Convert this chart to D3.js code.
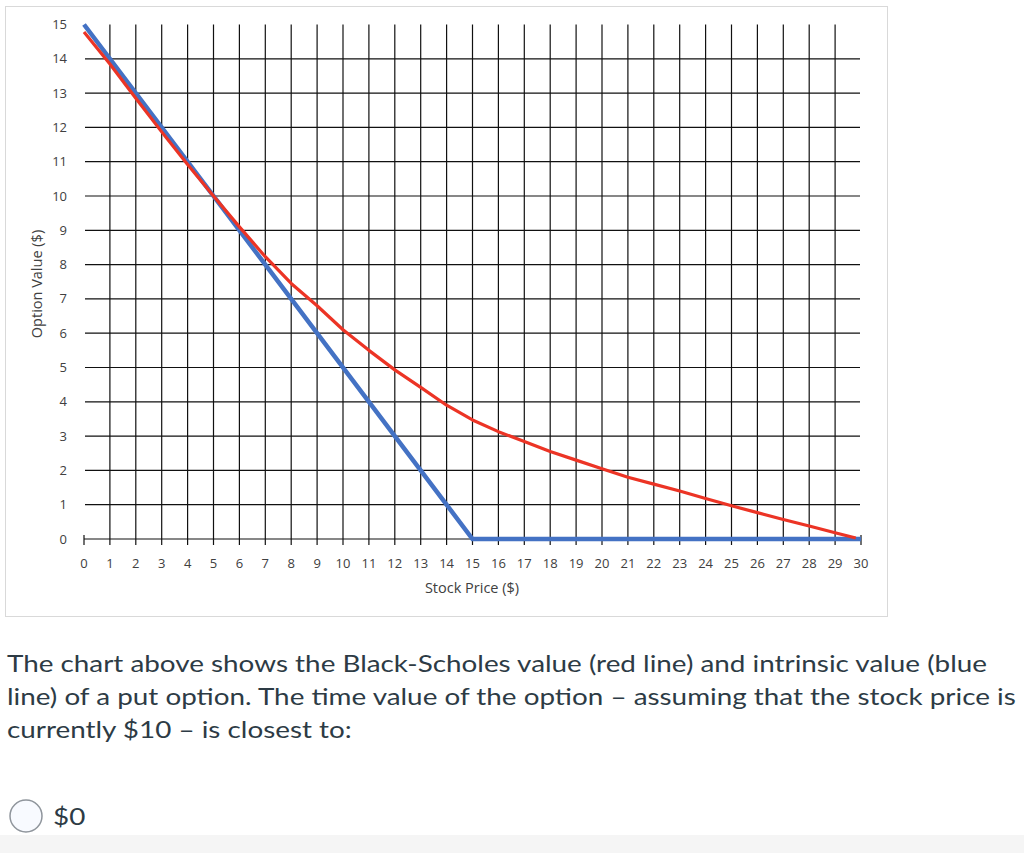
<!DOCTYPE html>
<html>
<head>
<meta charset="utf-8">
<script src="https://cdn.jsdelivr.net/npm/d3@7"></script>
<style>
  html, body { margin: 0; padding: 0; background: #fff; }
  svg { display: block; }
</style>
</head>
<body>
<svg id="chart" width="1024" height="853"></svg>
<script>
const svg = d3.select("#chart");

// data
const stockPrices = d3.range(0, 31);
const intrinsicPrices = [0, 15, 30];
const intrinsicValues = [15, 0, 0];
const bsPrices = [0, 1, 2, 3, 4, 5, 6, 7, 8, 9, 10, 11, 12, 13, 14, 15, 16, 17, 18, 19, 20, 21, 22, 23, 24, 25, 26, 27, 28, 29, 29.8];
const bsValues = [14.78, 13.85, 12.85, 11.87, 10.92, 10.0, 9.1, 8.23, 7.45, 6.8, 6.1, 5.5, 4.93, 4.42, 3.9, 3.47, 3.13, 2.84, 2.55, 2.3, 2.05, 1.8, 1.6, 1.4, 1.18, 0.97, 0.77, 0.57, 0.38, 0.18, 0.03];
const yTicks = d3.range(0, 16);
const xLabel = "Stock Price ($)";
const yLabel = "Option Value ($)";
const question = [
  "The chart above shows the Black-Scholes value (red line) and intrinsic value (blue",
  "line) of a put option. The time value of the option \u2013 assuming that the stock price is",
  "currently $10 \u2013 is closest to:"
];
const answer = "$0";

const x = d3.scaleLinear().domain([0, 30]).range([84, 861]);
const y = d3.scaleLinear().domain([0, 15]).range([539, 24.5]);

const tickFont = "Open Sans, sans-serif";
const textColor = "#404040";

// chart frame
svg.append("rect")
  .attr("x", 5.5).attr("y", 6.5)
  .attr("width", 882).attr("height", 610)
  .attr("fill", "#fff")
  .attr("stroke", "#d9d9d9");

// vertical grid
svg.append("g")
  .selectAll("line")
  .data(stockPrices.filter(d => d > 0 && d < 30))
  .enter()
  .append("line")
  .attr("x1", d => x(d)).attr("x2", d => x(d))
  .attr("y1", y(15)).attr("y2", y(0) + 6)
  .attr("stroke", "#111").attr("stroke-width", 1.2);

// end ticks on the x axis
svg.append("g")
  .selectAll("line")
  .data([0, 30])
  .enter()
  .append("line")
  .attr("x1", d => x(d)).attr("x2", d => x(d))
  .attr("y1", y(0) - 4).attr("y2", y(0) + 6)
  .attr("stroke", "#111").attr("stroke-width", 1.2);

// horizontal grid (0 is the axis)
svg.append("g")
  .selectAll("line")
  .data(yTicks.filter(d => d < 15))
  .enter()
  .append("line")
  .attr("x1", d => d === 0 ? x(0) : x(0) + 1).attr("x2", x(30) - 1)
  .attr("y1", d => y(d)).attr("y2", d => y(d))
  .attr("stroke", "#111").attr("stroke-width", 1.2);

// tick labels
svg.append("g")
  .selectAll("text")
  .data(yTicks)
  .enter()
  .append("text")
  .attr("x", 67)
  .attr("y", d => y(d) + 4.5)
  .attr("text-anchor", "end")
  .attr("font-family", tickFont)
  .attr("font-size", 13)
  .attr("fill", textColor)
  .text(d => d);

svg.append("g")
  .selectAll("text")
  .data(stockPrices)
  .enter()
  .append("text")
  .attr("x", d => x(d))
  .attr("y", y(0) + 29)
  .attr("text-anchor", "middle")
  .attr("font-family", tickFont)
  .attr("font-size", 13)
  .attr("fill", textColor)
  .text(d => d);

// axis titles
svg.append("text")
  .attr("x", 472).attr("y", 593)
  .attr("text-anchor", "middle")
  .attr("font-family", tickFont)
  .attr("font-size", 14.5)
  .attr("fill", textColor)
  .text(xLabel);

svg.append("text")
  .attr("transform", "translate(42,284) rotate(-90)")
  .attr("text-anchor", "middle")
  .attr("font-family", tickFont)
  .attr("font-size", 14.5)
  .attr("fill", textColor)
  .text(yLabel);

// series
const line = d3.line().x(d => x(d[0])).y(d => y(d[1]));

svg.append("path")
  .datum(d3.zip(intrinsicPrices, intrinsicValues))
  .attr("d", line)
  .attr("fill", "none")
  .attr("stroke", "#4472c4")
  .attr("stroke-width", 4.5);

svg.append("path")
  .datum(d3.zip(bsPrices, bsValues))
  .attr("d", line)
  .attr("fill", "none")
  .attr("stroke", "#ec3425")
  .attr("stroke-width", 3.2)
  .attr("stroke-linejoin", "round");

// question text (the reference font renders wider than Lato here)
svg.append("g")
  .attr("transform", "translate(7,0) scale(1.16,1)")
  .selectAll("text")
  .data(question)
  .enter()
  .append("text")
  .attr("x", 0)
  .attr("y", (d, i) => 672 + i * 33)
  .attr("font-family", "Lato, sans-serif")
  .attr("font-size", 24)
  .attr("fill", "#2d3b45")
  .text(d => d);

// answer option
svg.append("rect")
  .attr("x", 0).attr("y", 835)
  .attr("width", 1024).attr("height", 18)
  .attr("fill", "#f5f5f5");

svg.append("circle")
  .attr("cx", 26).attr("cy", 816).attr("r", 16)
  .attr("fill", "#f8faff")
  .attr("stroke", "#8f959c")
  .attr("stroke-width", 1.5);

svg.append("text")
  .attr("transform", "translate(53,825) scale(1.16,1)")
  .attr("font-family", "Lato, sans-serif")
  .attr("font-size", 24)
  .attr("fill", "#2d3b45")
  .text(answer);
</script>
</body>
</html>
